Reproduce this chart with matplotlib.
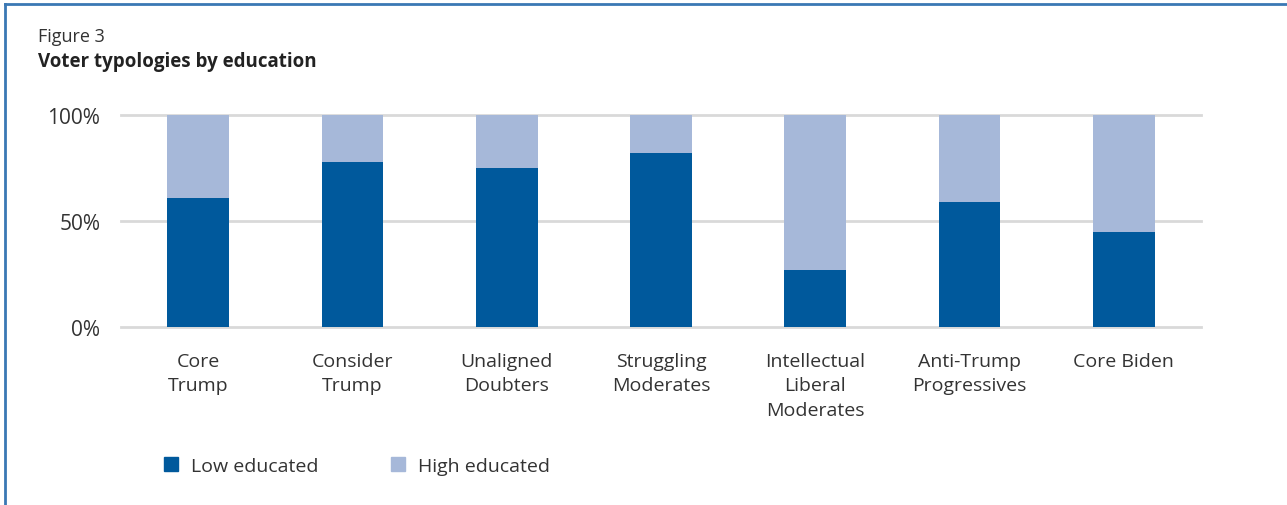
import matplotlib.pyplot as plt
from matplotlib.patches import Rectangle
from matplotlib.lines import Line2D

plt.rcParams['font.family'] = ['Open Sans', 'DejaVu Sans']

# data
categories = ['Core\nTrump', 'Consider\nTrump', 'Unaligned\nDoubters',
              'Struggling\nModerates', 'Intellectual\nLiberal\nModerates',
              'Anti-Trump\nProgressives', 'Core Biden']
low_educated = [61, 78, 75, 82, 27, 59, 45]
high_educated = [100 - v for v in low_educated]
y_ticks = [0, 50, 100]
y_tick_labels = ['0%', '50%', '100%']

dark_blue = '#00599C'
light_blue = '#A6B8D9'
text_col = '#333333'

fig = plt.figure(figsize=(12.87, 5.06), dpi=100)
ax = fig.add_axes([121 / 1287, 1 - 328 / 506, 1080 / 1287, 212 / 506])

x = range(len(categories))
ax.bar(x, low_educated, width=0.4, color=dark_blue, zorder=3)
ax.bar(x, high_educated, width=0.4, bottom=low_educated, color=light_blue, zorder=3)

ax.set_xlim(-0.5, len(categories) - 0.5)
ax.set_ylim(0, 100)
ax.set_yticks(y_ticks)
ax.set_yticklabels(y_tick_labels, fontsize=15, color=text_col)
ax.set_xticks(list(x))
ax.set_xticklabels(categories, fontsize=14, color=text_col, linespacing=1.45)
ax.tick_params(axis='both', length=0)
ax.tick_params(axis='y', pad=15)
ax.tick_params(axis='x', pad=18)
for sp in ax.spines.values():
    sp.set_visible(False)
for t in y_ticks:
    ax.axhline(t, color='#d9d9d9', lw=2, zorder=1, clip_on=False)

# titles
fig.text(38 / 1287, 1 - 37 / 506, 'Figure 3', fontsize=13, color=text_col,
         va='center', ha='left')
fig.text(38 / 1287, 1 - 62 / 506, 'Voter typologies by education', fontsize=13.5,
         fontweight='bold', color='#222222', va='center', ha='left')

# legend
fig.patches.append(Rectangle((164 / 1287, 1 - 472 / 506), 14 / 1287, 14 / 506,
                             transform=fig.transFigure, color=dark_blue))
fig.text(191 / 1287, 1 - 467 / 506, 'Low educated', fontsize=14, color=text_col,
         va='center', ha='left')
fig.patches.append(Rectangle((391 / 1287, 1 - 472 / 506), 14 / 1287, 14 / 506,
                             transform=fig.transFigure, color=light_blue))
fig.text(418 / 1287, 1 - 467 / 506, 'High educated', fontsize=14, color=text_col,
         va='center', ha='left')

# frame
fig.lines.append(Line2D([5 / 1287, 1], [1 - 5 / 506, 1 - 5 / 506],
                        transform=fig.transFigure, color='#3A78B4', lw=2))
fig.lines.append(Line2D([5 / 1287, 5 / 1287], [0, 1 - 5 / 506],
                        transform=fig.transFigure, color='#3A78B4', lw=2))

fig.savefig('out.png', dpi=100)
